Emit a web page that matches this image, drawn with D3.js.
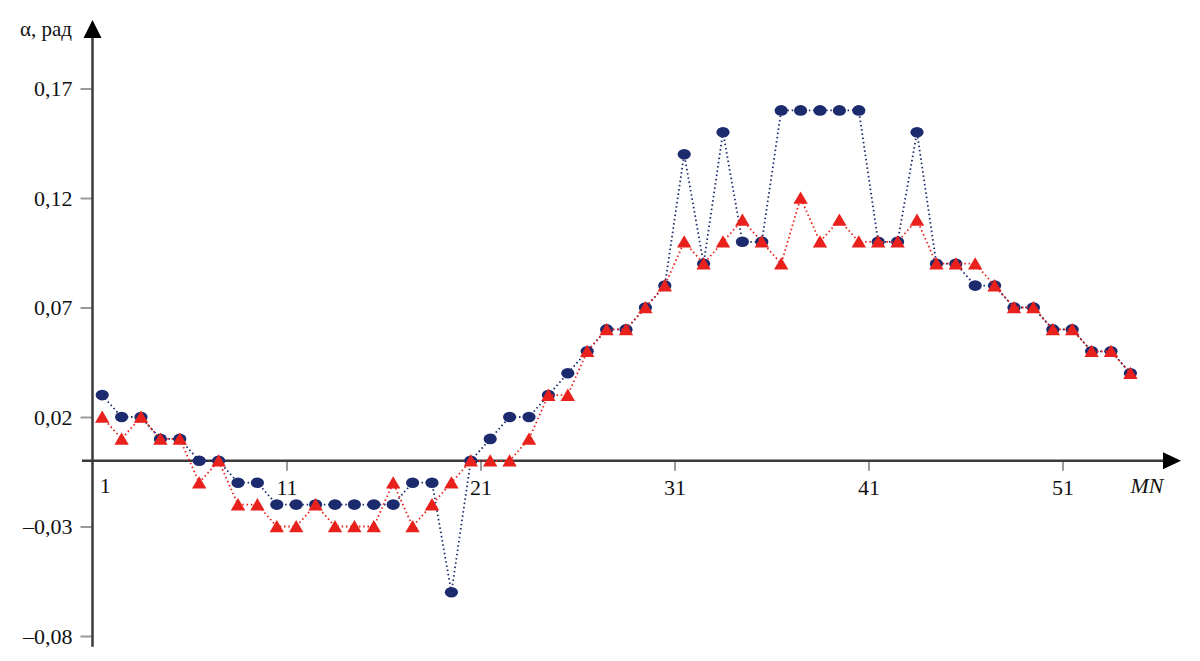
<!DOCTYPE html>
<html><head><meta charset="utf-8">
<script src="https://cdn.jsdelivr.net/npm/d3@7"></script>
<style>body{margin:0;background:#fff}svg{display:block}</style>
</head><body>
<svg id="c" width="1200" height="661"></svg>
<script>
const categories = d3.range(1, 55);
const blueSeries = [0.03,0.02,0.02,0.01,0.01,0,0,-0.01,-0.01,-0.02,
  -0.02,-0.02,-0.02,-0.02,-0.02,-0.02,-0.01,-0.01,-0.06,0,
  0.01,0.02,0.02,0.03,0.04,0.05,0.06,0.06,0.07,0.08,
  0.14,0.09,0.15,0.10,0.10,0.16,0.16,0.16,0.16,0.16,
  0.10,0.10,0.15,0.09,0.09,0.08,0.08,0.07,0.07,0.06,
  0.06,0.05,0.05,0.04];
const redSeries = [0.02,0.01,0.02,0.01,0.01,-0.01,0,-0.02,-0.02,-0.03,
  -0.03,-0.02,-0.03,-0.03,-0.03,-0.01,-0.03,-0.02,-0.01,0,
  0,0,0.01,0.03,0.03,0.05,0.06,0.06,0.07,0.08,
  0.10,0.09,0.10,0.11,0.10,0.09,0.12,0.10,0.11,0.10,
  0.10,0.10,0.11,0.09,0.09,0.09,0.08,0.07,0.07,0.06,
  0.06,0.05,0.05,0.04];
const xTickLabels = [1, 11, 21, 31, 41, 51];
const yTicks = [-0.08, -0.03, 0.02, 0.07, 0.12, 0.17];
const yTitle = "α, рад";
const xTitle = "MN";

const svg = d3.select("#c");
const x = d3.scaleLinear().domain([0.5, 54.5]).range([92.5, 1140.1]);
const y = d3.scaleLinear().domain([-0.08, 0.17]).range([636, 88.5]);
const axisColor = "#3a3a3a", tickColor = "#9a9a9a";
const font = "'Liberation Serif','Times New Roman',serif";
const fmt = v => (v < 0 ? "\u2013" : "") + d3.format(".2f")(Math.abs(v)).replace(".", ",");

// Y axis
const ya = svg.append("g").attr("transform", `translate(${x(0.5)},0)`)
  .call(d3.axisLeft(y).tickValues(yTicks).tickFormat(fmt).tickSize(12).tickPadding(8));
ya.select(".domain").remove();
ya.selectAll(".tick line").attr("stroke", tickColor).attr("stroke-width", 2);
ya.selectAll(".tick text").attr("font-family", font).attr("font-size", 22).attr("fill", "#111");
svg.append("line").attr("x1", x(0.5)).attr("x2", x(0.5)).attr("y1", 646.7).attr("y2", 36)
  .attr("stroke", axisColor).attr("stroke-width", 2.5);
svg.append("path").attr("d", `M${x(0.5)},20 L${x(0.5)+9},38 L${x(0.5)-9},38 Z`).attr("fill", "#000");
svg.append("text").attr("x", 72).attr("y", 36).attr("text-anchor", "end")
  .attr("font-family", font).attr("font-size", 21).attr("fill", "#111").text(yTitle);

// X axis
const xa = svg.append("g").attr("transform", `translate(0,${y(0)})`)
  .call(d3.axisBottom(x).tickValues(xTickLabels.slice(1).map(v => v - 0.5)).tickFormat(v => String(v + 0.5)).tickSize(10).tickPadding(9));
xa.select(".domain").remove();
xa.selectAll(".tick line").attr("stroke", tickColor).attr("stroke-width", 2);
xa.selectAll(".tick text").attr("font-family", font).attr("font-size", 22).attr("fill", "#111");
svg.append("text").attr("x", x(xTickLabels[0]) + 3).attr("y", y(0) + 32).attr("text-anchor", "middle")
  .attr("font-family", font).attr("font-size", 22).attr("fill", "#111").text(String(xTickLabels[0]));
svg.append("line").attr("x1", 82).attr("x2", 1166).attr("y1", y(0)).attr("y2", y(0))
  .attr("stroke", axisColor).attr("stroke-width", 2.5);
svg.append("path").attr("d", `M1181,${y(0)} L1163,${y(0)-8.5} L1163,${y(0)+8.5} Z`).attr("fill", "#000");
svg.append("text").attr("x", 1147).attr("y", y(0) + 32).attr("text-anchor", "middle")
  .attr("font-family", font).attr("font-size", 22).attr("font-style", "italic").attr("fill", "#111").text(xTitle);

const line = d3.line().x((d, i) => x(categories[i])).y(d => y(d));
const blue = "#1c2a6e", red = "#e8211c";

// Blue series
svg.append("path").datum(blueSeries).attr("d", line).attr("fill", "none")
  .attr("stroke", blue).attr("stroke-width", 1.8).attr("stroke-dasharray", "1.5,2.8");
svg.append("g").selectAll("ellipse").data(blueSeries).join("ellipse")
  .attr("cx", (d, i) => x(categories[i])).attr("cy", d => y(d)).attr("rx", 6.6).attr("ry", 5.3).attr("fill", blue);

// Red series
svg.append("path").datum(redSeries).attr("d", line).attr("fill", "none")
  .attr("stroke", red).attr("stroke-width", 1.8).attr("stroke-dasharray", "1.5,2.8");
svg.append("g").selectAll("path").data(redSeries).join("path")
  .attr("transform", (d, i) => `translate(${x(categories[i])},${y(d)})`)
  .attr("d", "M0,-6.5 L7.2,5.8 L-7.2,5.8 Z").attr("fill", red);
</script>
</body></html>
